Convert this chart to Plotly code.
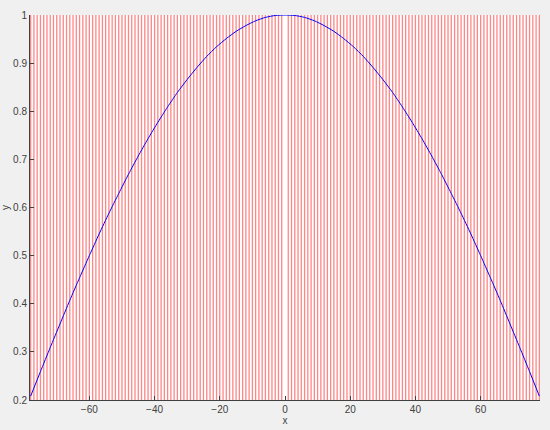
import plotly.graph_objects as go

# curve samples (x in degrees)
curve_x = [-78, -75, -72, -69, -66, -63, -60, -57, -54, -51, -48, -45, -42, -39, -36, -33, -30,
           -27, -24, -21, -18, -15, -12, -9, -6, -3, 0,
           3, 6, 9, 12, 15, 18, 21, 24, 27, 30, 33, 36, 39, 42, 45, 48, 51, 54, 57, 60,
           63, 66, 69, 72, 75, 78]
curve_y = [0.208, 0.259, 0.309, 0.358, 0.407, 0.454, 0.500, 0.545, 0.588, 0.629, 0.669, 0.707,
           0.743, 0.777, 0.809, 0.839, 0.866, 0.891, 0.914, 0.934, 0.951, 0.966, 0.978, 0.988,
           0.995, 0.999, 1.000,
           0.999, 0.995, 0.988, 0.978, 0.966, 0.951, 0.934, 0.914, 0.891, 0.866, 0.839, 0.809,
           0.777, 0.743, 0.707, 0.669, 0.629, 0.588, 0.545, 0.500, 0.454, 0.407, 0.358, 0.309,
           0.259, 0.208]

# red vertical lines, one per degree, none at 0
line_x = [-78, -77, -76, -75, -74, -73, -72, -71, -70, -69, -68, -67, -66, -65, -64, -63,
          -62, -61, -60, -59, -58, -57, -56, -55, -54, -53, -52, -51, -50, -49, -48, -47,
          -46, -45, -44, -43, -42, -41, -40, -39, -38, -37, -36, -35, -34, -33, -32, -31,
          -30, -29, -28, -27, -26, -25, -24, -23, -22, -21, -20, -19, -18, -17, -16, -15,
          -14, -13, -12, -11, -10, -9, -8, -7, -6, -5, -4, -3, -2, -1,
          1, 2, 3, 4, 5, 6, 7, 8, 9, 10, 11, 12, 13, 14, 15, 16, 17, 18, 19, 20,
          21, 22, 23, 24, 25, 26, 27, 28, 29, 30, 31, 32, 33, 34, 35, 36, 37, 38, 39, 40,
          41, 42, 43, 44, 45, 46, 47, 48, 49, 50, 51, 52, 53, 54, 55, 56, 57, 58, 59, 60,
          61, 62, 63, 64, 65, 66, 67, 68, 69, 70, 71, 72, 73, 74, 75, 76, 77, 78]
line_bottom = 0.2
line_top = 1.0

x_ticks = [-60, -40, -20, 0, 20, 40, 60]
y_ticks = [0.2, 0.3, 0.4, 0.5, 0.6, 0.7, 0.8, 0.9, 1]
y_labels = ['0.2', '0.3', '0.4', '0.5', '0.6', '0.7', '0.8', '0.9', '1']

seg_x, seg_y = [], []
for v in line_x:
    seg_x += [v, v, None]
    seg_y += [line_bottom, line_top, None]

fig = go.Figure()
fig.add_trace(go.Scatter(x=seg_x, y=seg_y, mode='lines',
                         line=dict(color='rgb(255,70,70)', width=1.3),
                         opacity=0.65, hoverinfo='skip'))
fig.add_trace(go.Scatter(x=curve_x, y=curve_y, mode='lines',
                         line=dict(color='blue', width=1, shape='spline', smoothing=0.6)))

axis_style = dict(showgrid=False, zeroline=False, showline=True, linecolor='#404040',
                  linewidth=1, ticks='inside', ticklen=4, tickcolor='#404040',
                  automargin=False,
                  tickfont=dict(family='Liberation Sans', size=10, color='#404040'),
                  title_font=dict(family='Liberation Sans', size=10, color='#404040'))

fig.update_layout(
    width=550, height=430,
    paper_bgcolor='#f0f0f0', plot_bgcolor='white',
    margin=dict(l=30, r=10, t=15, b=30),
    showlegend=False,
    xaxis=dict(range=[-78.2, 78.2], tickvals=x_ticks, title=dict(text='x', standoff=0), **axis_style),
    yaxis=dict(range=[0.2, 1.0], tickvals=y_ticks, ticktext=y_labels,
               title=dict(text='y', standoff=2), **axis_style),
)

# the page body has a default margin that shifts the figure; drop it
fig.write_html("out.html", config={'displayModeBar': False},
               post_script="document.body.style.margin='0';")
